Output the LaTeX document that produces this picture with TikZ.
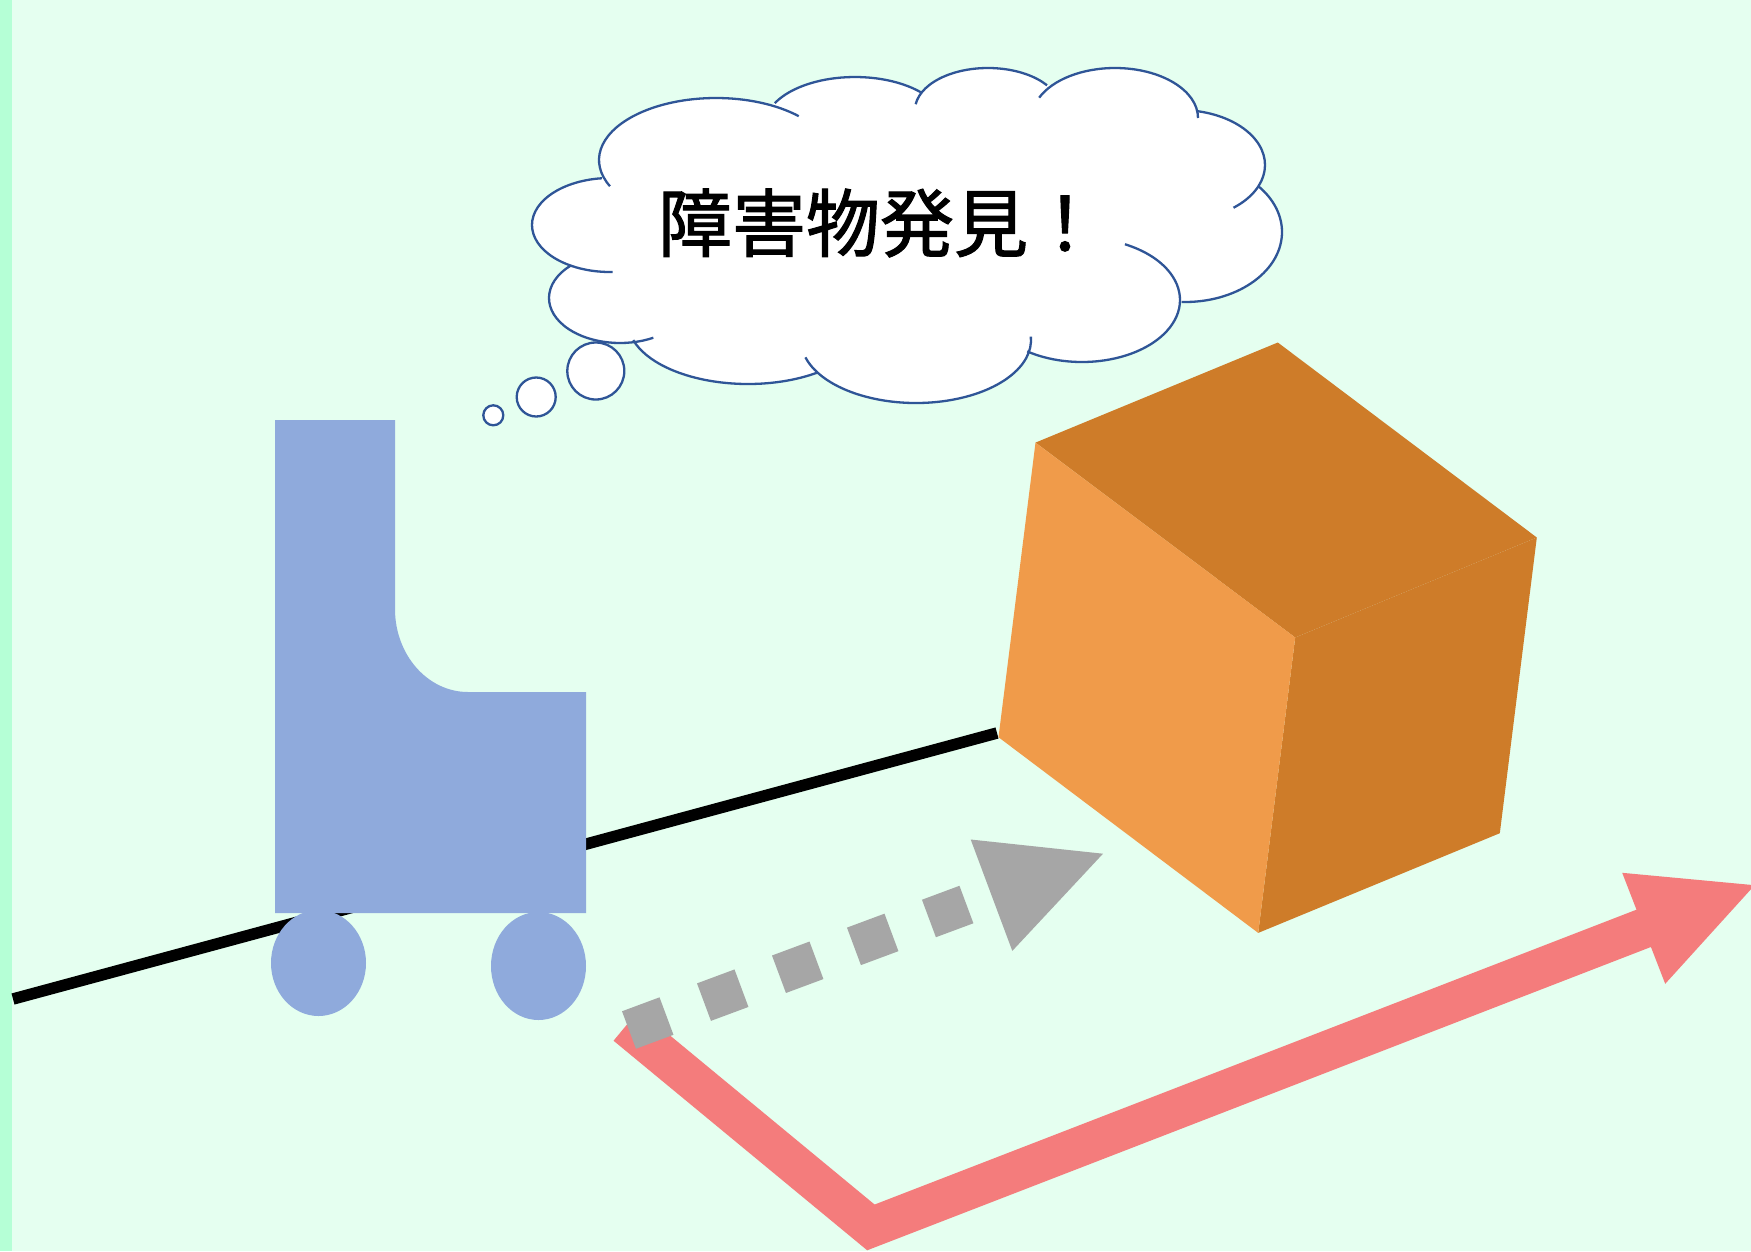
\documentclass[tikz,border=0pt]{standalone}
\usepackage{fontspec}
\newfontfamily\cjkfont[FakeBold=1.5]{Noto Sans CJK JP}
\definecolor{bgcol}{HTML}{E5FFF0}
\definecolor{stripcol}{HTML}{B5FFD6}
\definecolor{robotcol}{HTML}{8FAADC}
\definecolor{boxlight}{HTML}{F09B4A}
\definecolor{boxdark}{HTML}{CE7C29}
\definecolor{pathpink}{HTML}{F47C7C}
\definecolor{pathgray}{HTML}{A6A6A6}
\definecolor{cloudline}{HTML}{2F5597}
\tikzset{
  cloudstroke/.style={draw=cloudline, line width=2.3pt},
  bubble/.style={cloudstroke, fill=white},
}
\begin{document}
\begin{tikzpicture}[x=1pt,y=1pt]
\useasboundingbox (0,0) rectangle (1751,-1251);
\clip (0,0) rectangle (1751,-1251);
% background and left band
\fill[bgcol] (0,0) rectangle (1751,-1251);
\fill[stripcol] (0,0) rectangle (12,-1251);

% floor line
\coordinate (floorA) at (13,-999);
\coordinate (floorB) at (997,-733);
\draw[line width=11.5pt] (floorA) -- (floorB);

% planned route (pink) with arrow head
\coordinate (routeS) at (626.3,-1025.3);
\coordinate (routeV) at (870.9,-1227.4);
\coordinate (routeE) at (1648.4,-926.5);
\draw[pathpink, line width=40pt, line join=miter] (routeS) -- (routeV) -- (routeE);
\fill[pathpink] (1622.2,-872.8) -- (1754.6,-885.2) -- (1665.2,-983.8) -- cycle;

% avoidance path (gray, dashed) with arrow head
\coordinate (detourS) at (629,-1030);
\coordinate (detourE) at (991.5,-895.2);
\draw[pathgray, line width=40pt, dash pattern=on 40pt off 40pt] (detourS) -- (detourE);
\fill[pathgray] (970.7,-839.5) -- (1103,-853.7) -- (1012.3,-950.9) -- cycle;

% robot body and wheels
\fill[robotcol] (275,-420) -- (395,-420) -- (395,-609)
  arc[start angle=180, end angle=270, x radius=73pt, y radius=83pt]
  -- (586,-692) -- (586,-913) -- (275,-913) -- cycle;
\fill[robotcol] (318.5,-963) ellipse[x radius=47.5pt, y radius=53pt];
\fill[robotcol] (538.5,-966) ellipse[x radius=47.5pt, y radius=54pt];

% obstacle box
\coordinate (tlb) at (1035.5,-442.6);
\coordinate (tb)  at (1277.8,-342.5);
\coordinate (rt)  at (1536.8,-537.5);
\coordinate (ft)  at (1295.2,-637.5);
\coordinate (lb)  at (998.5,-737.2);
\coordinate (fb)  at (1258.2,-932.9);
\coordinate (rb)  at (1499.8,-833.2);
\fill[boxdark] (tlb) -- (tb) -- (rt) -- (ft) -- cycle;
\fill[boxdark] (ft) -- (rt) -- (rb) -- (fb) -- cycle;
\fill[boxlight] (tlb) -- (ft) -- (fb) -- (lb) -- cycle;

% thought cloud: white body, then the outline arcs
\fill[white] (602,-180) -- (776,-103) -- (920,-93) -- (1048,-85) -- (1197,-110)
  -- (1256,-187) -- (1182,-302) -- (1028,-352) -- (818,-373) -- (634,-340)
  -- (570,-265) -- cycle;
\foreach \cx/\cy/\rx/\ry/\a/\b in {
  716/160/117/62/45/205, 855/125/90/48/43/153, 988/110/73/42/36/172,
  1115/118/83/50/0/156, 1180/165/85/55/-51/79, 1185/232/97/70/-92/41,
  1082/300/98/62/-124/64, 916/340/115/63/-164/3, 748/322/120/62/-163/-55,
  620/298/71/45/134/298, 610/225/78/47/96/272}
  \fill[white] (\cx,-\cy) ellipse[x radius=\rx pt, y radius=\ry pt];
\foreach \cx/\cy/\rx/\ry/\a/\b in {
  716/160/117/62/45/205, 855/125/90/48/43/153, 988/110/73/42/36/172,
  1115/118/83/50/0/156, 1180/165/85/55/-51/79, 1185/232/97/70/-92/41,
  1082/300/98/62/-124/64, 916/340/115/63/-164/3, 748/322/120/62/-163/-55,
  620/298/71/45/134/298, 610/225/78/47/96/272}
  \draw[cloudstroke] ([shift={(\a:\rx pt and \ry pt)}]\cx,-\cy)
    arc[start angle=\a, end angle=\b, x radius=\rx pt, y radius=\ry pt];

% trailing bubbles
\draw[bubble] (595.8,-371) circle[radius=28.5pt];
\draw[bubble] (536.2,-397) circle[radius=19.5pt];
\draw[bubble] (493.3,-415.3) circle[radius=10pt];

% message
\node[inner sep=0pt, font=\cjkfont\fontsize{74}{80}\selectfont] (msg) at (880,-223) {障害物発見！};
\end{tikzpicture}
\end{document}
